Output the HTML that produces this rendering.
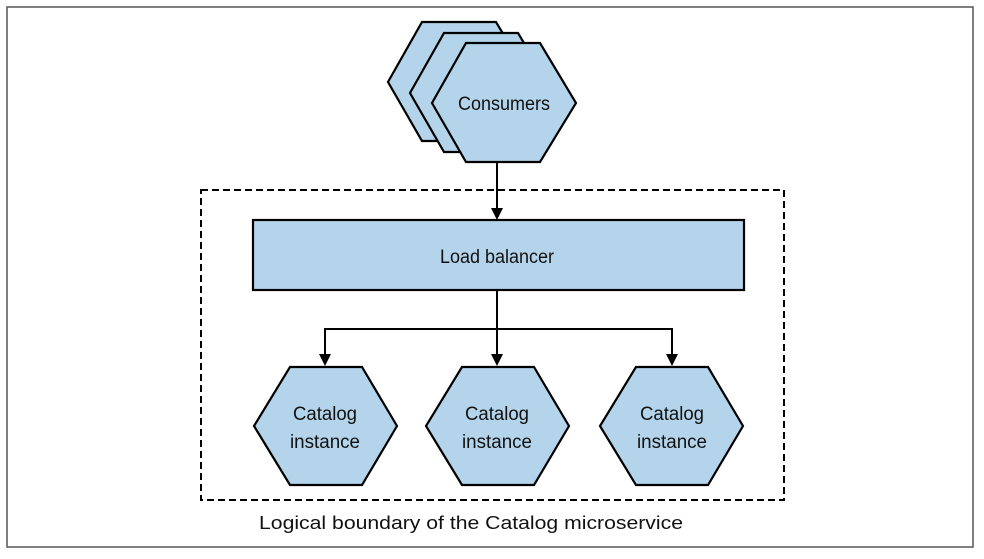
<!DOCTYPE html>
<html><head><style>html,body{margin:0;padding:0;background:#fff}svg{display:block}text{font-family:"Liberation Sans Narrow","Liberation Sans",sans-serif;fill:#111}</style></head>
<body>
<svg width="984" height="559" viewBox="0 0 984 559" xmlns="http://www.w3.org/2000/svg">
<rect x="7" y="7" width="966" height="540" fill="#fff" stroke="#555" stroke-width="1.5"/>
<g fill="#b3d4eb" stroke="#000" stroke-width="2.2" stroke-linejoin="miter">
<polygon points="422,22 496,22 532,82 496,141 422,141 388,82"/>
<polygon points="444,33 518,33 554,93 518,152 444,152 410,93"/>
<polygon points="466,43 540,43 576,103 540,162 466,162 432,103"/>
</g>
<rect x="201" y="190" width="583" height="310" fill="none" stroke="#000" stroke-width="2" stroke-dasharray="7,4"/>
<g stroke="#000" stroke-width="2" fill="none">
<line x1="497" y1="162" x2="497" y2="210"/>
<line x1="497" y1="290" x2="497" y2="356"/>
<polyline points="325,356 325,329 672,329 672,356"/>
</g>
<g fill="#000">
<polygon points="491,208 503,208 497,220"/>
<polygon points="319,354 331,354 325,366"/>
<polygon points="491,354 503,354 497,366"/>
<polygon points="666,354 678,354 672,366"/>
</g>
<rect x="253" y="220" width="491" height="70" fill="#b3d4eb" stroke="#000" stroke-width="2.2"/>
<g fill="#b3d4eb" stroke="#000" stroke-width="2.2">
<polygon points="290,367 362,367 397,426 362,485 290,485 254,426"/>
<polygon points="462,367 534,367 569,426 534,485 462,485 426,426"/>
<polygon points="636,367 708,367 743,426 708,485 636,485 600,426"/>
</g>
<g font-size="19" text-anchor="middle">
<text x="504" y="110" textLength="92" lengthAdjust="spacingAndGlyphs">Consumers</text>
<text x="497" y="263" textLength="114" lengthAdjust="spacingAndGlyphs">Load balancer</text>
<text x="325" y="420" textLength="64" lengthAdjust="spacingAndGlyphs">Catalog</text><text x="325" y="448" textLength="70" lengthAdjust="spacingAndGlyphs">instance</text>
<text x="497" y="420" textLength="64" lengthAdjust="spacingAndGlyphs">Catalog</text><text x="497" y="448" textLength="70" lengthAdjust="spacingAndGlyphs">instance</text>
<text x="672" y="420" textLength="64" lengthAdjust="spacingAndGlyphs">Catalog</text><text x="672" y="448" textLength="70" lengthAdjust="spacingAndGlyphs">instance</text>
<text x="471" y="529" font-size="18" textLength="424" lengthAdjust="spacingAndGlyphs">Logical boundary of the  Catalog microservice</text>
</g>
</svg>
</body></html>
